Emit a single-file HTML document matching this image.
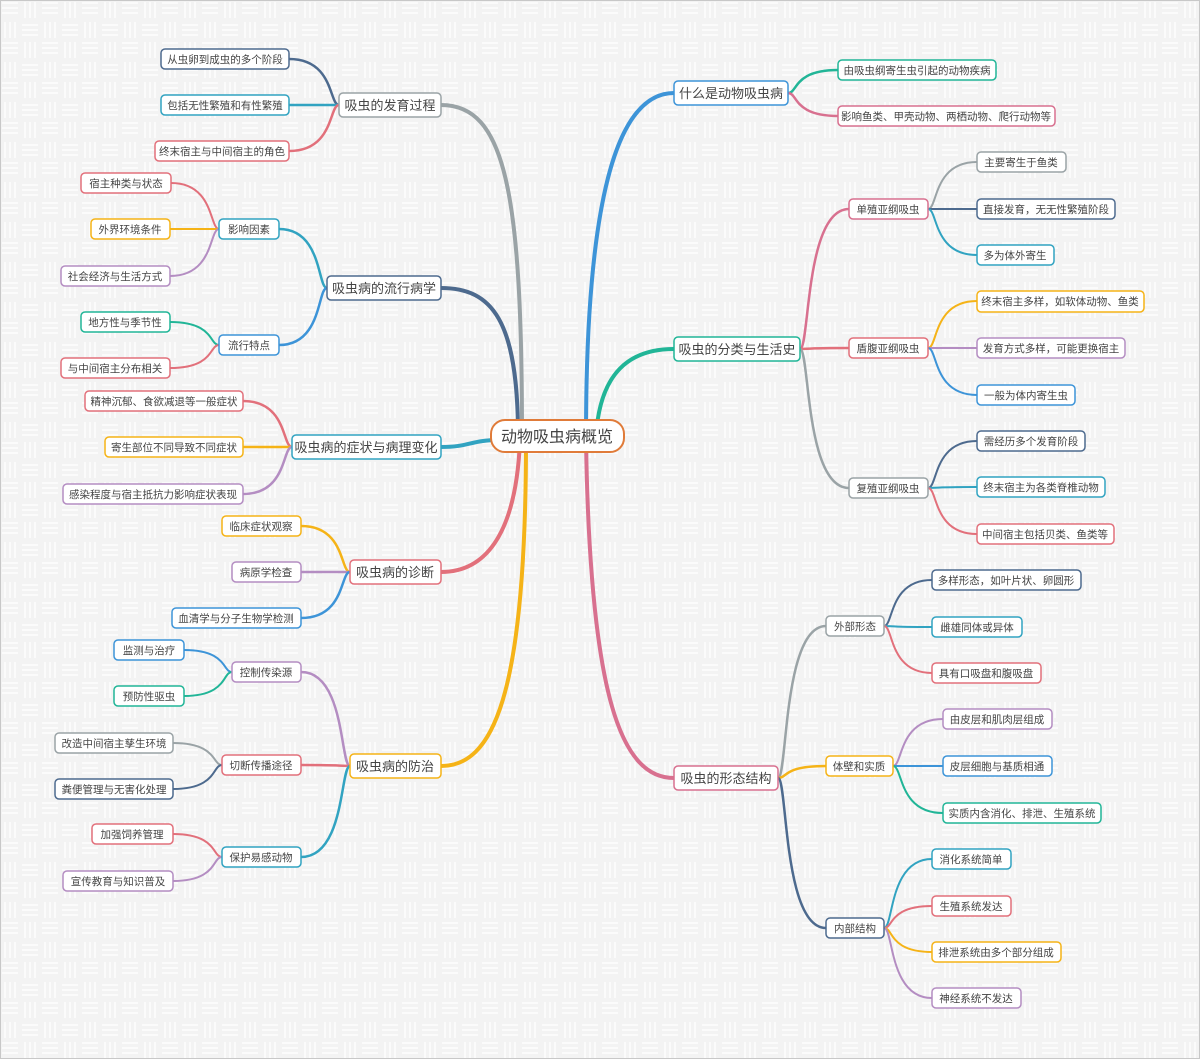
<!DOCTYPE html>
<html><head><meta charset="utf-8"><style>
html,body{margin:0;padding:0;background:#fff}
svg{display:block}
text{font-family:"Liberation Sans","Noto Sans CJK SC",sans-serif;fill:#444;text-anchor:middle}
.s{font-size:10.5px}.m{font-size:13px}.c{font-size:16px}
rect{fill:#fff;stroke-width:1.5}
</style></head><body>
<svg id="svg" width="1200" height="1059" viewBox="0 0 1200 1059" xmlns="http://www.w3.org/2000/svg">
<defs><pattern id="p" width="40" height="40" patternUnits="userSpaceOnUse">
<rect x="0" y="0" width="40" height="40" style="fill:#f3f3f3;stroke:none"/>
<g style="stroke:#fbfbfb;stroke-width:2">
<line x1="2" y1="3" x2="18" y2="3"/><line x1="2" y1="8" x2="18" y2="8"/><line x1="2" y1="13" x2="18" y2="13"/>
<line x1="25" y1="2" x2="25" y2="18"/><line x1="30" y1="2" x2="30" y2="18"/><line x1="35" y1="2" x2="35" y2="18"/>
<line x1="5" y1="22" x2="5" y2="38"/><line x1="10" y1="22" x2="10" y2="38"/><line x1="15" y1="22" x2="15" y2="38"/>
<line x1="22" y1="25" x2="38" y2="25"/><line x1="22" y1="30" x2="38" y2="30"/><line x1="22" y1="35" x2="38" y2="35"/>
</g></pattern></defs>
<rect x="0.5" y="0.5" width="1199" height="1058" style="fill:url(#p);stroke:#c8c8c8;stroke-width:1"/>
<g id="edges" fill="none" stroke-linecap="round"></g>

<rect x="491" y="420" width="133" height="32" rx="14" style="stroke:#e07b39;stroke-width:2"/>
<text class="c" x="557" y="442">动物吸虫病概览</text>

<rect x="339" y="93" width="102" height="24" rx="4" style="stroke:#9aa3a6"/><text class="m" x="390" y="110">吸虫的发育过程</text>
<rect x="327" y="276" width="114" height="24" rx="4" style="stroke:#4d6a8e"/><text class="m" x="384" y="293">吸虫病的流行病学</text>
<rect x="292" y="435" width="149" height="24" rx="4" style="stroke:#31a3c1"/><text class="m" x="366" y="452">吸虫病的症状与病理变化</text>
<rect x="350" y="560" width="91" height="24" rx="4" style="stroke:#e2707b"/><text class="m" x="395" y="577">吸虫病的诊断</text>
<rect x="350" y="754" width="91" height="24" rx="4" style="stroke:#f5b317"/><text class="m" x="395" y="771">吸虫病的防治</text>
<rect x="674" y="81" width="114" height="24" rx="4" style="stroke:#3d94d8"/><text class="m" x="731" y="98">什么是动物吸虫病</text>
<rect x="674" y="337" width="126" height="24" rx="4" style="stroke:#21b597"/><text class="m" x="737" y="354">吸虫的分类与生活史</text>
<rect x="674" y="766" width="104" height="24" rx="4" style="stroke:#d8708f"/><text class="m" x="726" y="783">吸虫的形态结构</text>

<rect x="161" y="49" width="128" height="20" rx="4" style="stroke:#4d6a8e"/><text class="s" x="225" y="63">从虫卵到成虫的多个阶段</text>
<rect x="161" y="95" width="128" height="20" rx="4" style="stroke:#31a3c1"/><text class="s" x="225" y="109">包括无性繁殖和有性繁殖</text>
<rect x="155" y="141" width="134" height="20" rx="4" style="stroke:#e2707b"/><text class="s" x="222" y="155">终末宿主与中间宿主的角色</text>
<rect x="219" y="219" width="60" height="20" rx="4" style="stroke:#31a3c1"/><text class="s" x="249" y="233">影响因素</text>
<rect x="81" y="173" width="90" height="20" rx="4" style="stroke:#e2707b"/><text class="s" x="126" y="187">宿主种类与状态</text>
<rect x="91" y="219" width="79" height="20" rx="4" style="stroke:#f5b317"/><text class="s" x="130" y="233">外界环境条件</text>
<rect x="61" y="266" width="109" height="20" rx="4" style="stroke:#b48dc2"/><text class="s" x="115" y="280">社会经济与生活方式</text>
<rect x="219" y="335" width="60" height="20" rx="4" style="stroke:#3d94d8"/><text class="s" x="249" y="349">流行特点</text>
<rect x="81" y="312" width="89" height="20" rx="4" style="stroke:#21b597"/><text class="s" x="125" y="326">地方性与季节性</text>
<rect x="61" y="358" width="109" height="20" rx="4" style="stroke:#e2707b"/><text class="s" x="115" y="372">与中间宿主分布相关</text>
<rect x="85" y="391" width="158" height="20" rx="4" style="stroke:#e2707b"/><text class="s" x="164" y="405">精神沉郁、食欲减退等一般症状</text>
<rect x="105" y="437" width="138" height="20" rx="4" style="stroke:#f5b317"/><text class="s" x="174" y="451">寄生部位不同导致不同症状</text>
<rect x="63" y="484" width="180" height="20" rx="4" style="stroke:#b48dc2"/><text class="s" x="153" y="498">感染程度与宿主抵抗力影响症状表现</text>
<rect x="222" y="516" width="79" height="20" rx="4" style="stroke:#f5b317"/><text class="s" x="261" y="530">临床症状观察</text>
<rect x="232" y="562" width="69" height="20" rx="4" style="stroke:#b48dc2"/><text class="s" x="266" y="576">病原学检查</text>
<rect x="172" y="608" width="129" height="20" rx="4" style="stroke:#3d94d8"/><text class="s" x="236" y="622">血清学与分子生物学检测</text>
<rect x="232" y="662" width="69" height="20" rx="4" style="stroke:#b48dc2"/><text class="s" x="266" y="676">控制传染源</text>
<rect x="114" y="640" width="70" height="20" rx="4" style="stroke:#3d94d8"/><text class="s" x="149" y="654">监测与治疗</text>
<rect x="114" y="686" width="70" height="20" rx="4" style="stroke:#21b597"/><text class="s" x="149" y="700">预防性驱虫</text>
<rect x="222" y="755" width="79" height="20" rx="4" style="stroke:#e2707b"/><text class="s" x="261" y="769">切断传播途径</text>
<rect x="55" y="733" width="118" height="20" rx="4" style="stroke:#9aa3a6"/><text class="s" x="114" y="747">改造中间宿主孳生环境</text>
<rect x="55" y="779" width="118" height="20" rx="4" style="stroke:#4d6a8e"/><text class="s" x="114" y="793">粪便管理与无害化处理</text>
<rect x="222" y="847" width="79" height="20" rx="4" style="stroke:#31a3c1"/><text class="s" x="261" y="861">保护易感动物</text>
<rect x="92" y="824" width="81" height="20" rx="4" style="stroke:#e2707b"/><text class="s" x="132" y="838">加强饲养管理</text>
<rect x="63" y="871" width="110" height="20" rx="4" style="stroke:#b48dc2"/><text class="s" x="118" y="885">宣传教育与知识普及</text>

<rect x="838" y="60" width="158" height="20" rx="4" style="stroke:#21b597"/><text class="s" x="917" y="74">由吸虫纲寄生虫引起的动物疾病</text>
<rect x="838" y="106" width="217" height="20" rx="4" style="stroke:#d8708f"/><text class="s" x="946" y="120">影响鱼类、甲壳动物、两栖动物、爬行动物等</text>
<rect x="849" y="199" width="79" height="20" rx="4" style="stroke:#d8708f"/><text class="s" x="888" y="213">单殖亚纲吸虫</text>
<rect x="977" y="152" width="89" height="20" rx="4" style="stroke:#9aa3a6"/><text class="s" x="1021" y="166">主要寄生于鱼类</text>
<rect x="977" y="199" width="138" height="20" rx="4" style="stroke:#4d6a8e"/><text class="s" x="1046" y="213">直接发育，无无性繁殖阶段</text>
<rect x="977" y="245" width="77" height="20" rx="4" style="stroke:#31a3c1"/><text class="s" x="1015" y="259">多为体外寄生</text>
<rect x="849" y="338" width="79" height="20" rx="4" style="stroke:#e2707b"/><text class="s" x="888" y="352">盾腹亚纲吸虫</text>
<rect x="977" y="291" width="167" height="21" rx="4" style="stroke:#f5b317"/><text class="s" x="1060" y="305">终末宿主多样，如软体动物、鱼类</text>
<rect x="977" y="338" width="148" height="20" rx="4" style="stroke:#b48dc2"/><text class="s" x="1051" y="352">发育方式多样，可能更换宿主</text>
<rect x="977" y="385" width="98" height="20" rx="4" style="stroke:#3d94d8"/><text class="s" x="1026" y="399">一般为体内寄生虫</text>
<rect x="849" y="478" width="79" height="20" rx="4" style="stroke:#9aa3a6"/><text class="s" x="888" y="492">复殖亚纲吸虫</text>
<rect x="977" y="431" width="108" height="20" rx="4" style="stroke:#4d6a8e"/><text class="s" x="1031" y="445">需经历多个发育阶段</text>
<rect x="977" y="477" width="128" height="20" rx="4" style="stroke:#31a3c1"/><text class="s" x="1041" y="491">终末宿主为各类脊椎动物</text>
<rect x="977" y="524" width="137" height="20" rx="4" style="stroke:#e2707b"/><text class="s" x="1045" y="538">中间宿主包括贝类、鱼类等</text>
<rect x="826" y="616" width="58" height="20" rx="4" style="stroke:#9aa3a6"/><text class="s" x="855" y="630">外部形态</text>
<rect x="932" y="570" width="149" height="20" rx="4" style="stroke:#4d6a8e"/><text class="s" x="1006" y="584">多样形态，如叶片状、卵圆形</text>
<rect x="932" y="617" width="90" height="20" rx="4" style="stroke:#31a3c1"/><text class="s" x="977" y="631">雌雄同体或异体</text>
<rect x="932" y="663" width="109" height="20" rx="4" style="stroke:#e2707b"/><text class="s" x="986" y="677">具有口吸盘和腹吸盘</text>
<rect x="826" y="756" width="67" height="20" rx="4" style="stroke:#f5b317"/><text class="s" x="859" y="770">体壁和实质</text>
<rect x="943" y="709" width="109" height="20" rx="4" style="stroke:#b48dc2"/><text class="s" x="997" y="723">由皮层和肌肉层组成</text>
<rect x="943" y="756" width="109" height="20" rx="4" style="stroke:#3d94d8"/><text class="s" x="997" y="770">皮层细胞与基质相通</text>
<rect x="943" y="803" width="158" height="20" rx="4" style="stroke:#21b597"/><text class="s" x="1022" y="817">实质内含消化、排泄、生殖系统</text>
<rect x="826" y="918" width="58" height="20" rx="4" style="stroke:#4d6a8e"/><text class="s" x="855" y="932">内部结构</text>
<rect x="932" y="849" width="79" height="20" rx="4" style="stroke:#31a3c1"/><text class="s" x="971" y="863">消化系统简单</text>
<rect x="932" y="896" width="79" height="20" rx="4" style="stroke:#e2707b"/><text class="s" x="971" y="910">生殖系统发达</text>
<rect x="932" y="942" width="129" height="20" rx="4" style="stroke:#f5b317"/><text class="s" x="996" y="956">排泄系统由多个部分组成</text>
<rect x="932" y="988" width="89" height="20" rx="4" style="stroke:#b48dc2"/><text class="s" x="976" y="1002">神经系统不发达</text>
</svg>
<script>
var G='#9aa3a6',DB='#4d6a8e',T='#31a3c1',R='#e2707b',O='#f5b317',B='#3d94d8',GR='#21b597',P='#d8708f',PU='#b48dc2';
var g=document.getElementById('edges');
function add(d,c,w){var p=document.createElementNS('http://www.w3.org/2000/svg','path');p.setAttribute('d',d);p.setAttribute('stroke',c);p.setAttribute('stroke-width',w);g.appendChild(p);}
add('M522 436 C522 190,505 105,441 105',G,4);
add('M518 436 C518 320,492 288,441 288',DB,4);
add('M500 440 C470 440,470 447,441 447',T,4);
add('M520 440 C516 540,482 572,441 572',R,4);
add('M526 440 C526 700,492 766,441 766',O,4);
add('M586 436 C586 180,622 93,674 93',B,4);
add('M596 436 C600 372,630 349,674 349',GR,4);
add('M586 440 C590 700,622 778,674 778',P,4);
function e(px,py,cx,cy,c,w){var d=cx-px;add('M'+px+' '+py+' C'+(px+d*0.2)+' '+py+','+(px+d*0.1)+' '+cy+','+cx+' '+cy,c,w);}
e(339,105,289,59,DB,2.5);e(339,105,289,105,T,2.5);e(339,105,289,151,R,2.5);
e(327,288,279,229,T,2.5);e(327,288,279,345,B,2.5);
e(219,229,171,183,R,2);e(219,229,170,229,O,2);e(219,229,170,276,PU,2);
e(219,345,170,322,GR,2);e(219,345,170,368,R,2);
e(292,447,243,401,R,2.5);e(292,447,243,447,O,2.5);e(292,447,243,494,PU,2.5);
e(350,572,301,526,O,2.5);e(350,572,301,572,PU,2.5);e(350,572,301,618,B,2.5);
e(350,766,301,672,PU,2.5);e(350,766,301,765,R,2.5);e(350,766,301,857,T,2.5);
e(232,672,184,650,B,2);e(232,672,184,696,GR,2);
e(222,765,173,743,G,2);e(222,765,173,789,DB,2);
e(222,857,173,834,R,2);e(222,857,173,881,PU,2);
e(788,93,838,70,GR,2.5);e(788,93,838,116,P,2.5);
e(800,349,849,209,P,2.5);e(800,349,849,348,R,2.5);e(800,349,849,488,G,2.5);
e(928,209,977,162,G,2);e(928,209,977,209,DB,2);e(928,209,977,255,T,2);
e(928,348,977,301,O,2);e(928,348,977,348,PU,2);e(928,348,977,395,B,2);
e(928,488,977,441,DB,2);e(928,488,977,487,T,2);e(928,488,977,534,R,2);
e(778,778,826,626,G,2.5);e(778,778,826,766,O,2.5);e(778,778,826,928,DB,2.5);
e(884,626,932,580,DB,2);e(884,626,932,627,T,2);e(884,626,932,673,R,2);
e(893,766,943,719,PU,2);e(893,766,943,766,B,2);e(893,766,943,813,GR,2);
e(884,928,932,859,T,2);e(884,928,932,906,R,2);e(884,928,932,952,O,2);e(884,928,932,998,PU,2);
</script>
</body></html>
